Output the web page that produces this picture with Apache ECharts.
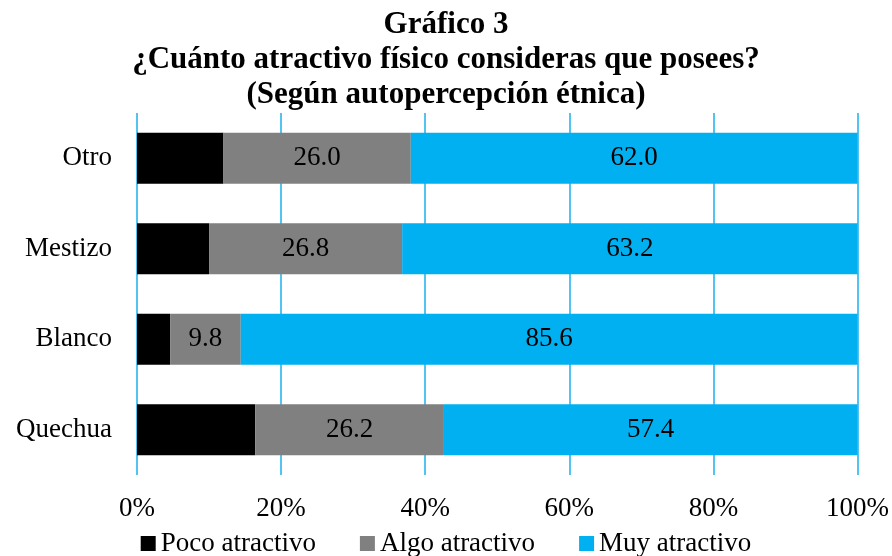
<!DOCTYPE html>
<html>
<head>
<meta charset="utf-8">
<script src="https://cdn.jsdelivr.net/npm/echarts@6/dist/echarts.min.js"></script>
<style>html,body{margin:0;padding:0;background:#fff}#c{width:892px;height:556px}</style>
</head>
<body>
<div id="c"></div>
<script>
var categories = ['Quechua', 'Blanco', 'Mestizo', 'Otro'];
var poco = [16.4, 4.6, 10.0, 12.0];
var algo = [26.2, 9.8, 26.8, 26.0];
var muy = [57.4, 85.6, 63.2, 62.0];
var seriesNames = ['Poco atractivo', 'Algo atractivo', 'Muy atractivo'];
var xTicks = [0, 20, 40, 60, 80, 100];

var FONT = '"Liberation Serif", "DejaVu Serif", serif';
var chart = echarts.init(document.getElementById('c'));
function lbl(color) {
  return {show: true, position: 'inside', color: color, fontFamily: FONT, fontSize: 27,
    formatter: function (p) { return p.value.toFixed(1); }};
}
chart.setOption({
  animation: false,
  title: {
    text: 'Gráfico 3\n¿Cuánto atractivo físico consideras que posees?\n(Según autopercepción étnica)',
    left: 'center', top: 2,
    textStyle: {fontFamily: FONT, fontWeight: 'bold', fontSize: 31, lineHeight: 35, color: '#000'}
  },
  legend: {
    data: seriesNames, bottom: -6, left: 'center', itemWidth: 15, itemHeight: 15, itemGap: 44,
    icon: 'rect',
    textStyle: {fontFamily: FONT, fontSize: 27, color: '#000'}
  },
  grid: {left: 137, right: 34, top: 113, bottom: 81, containLabel: false},
  xAxis: {
    type: 'value', min: xTicks[0], max: xTicks[xTicks.length - 1], interval: 20,
    axisLine: {show: false}, axisTick: {show: false},
    axisLabel: {formatter: '{value}%', fontFamily: FONT, fontSize: 27, color: '#000', margin: 20},
    splitLine: {show: true, lineStyle: {color: '#1AAFEC', width: 1.5}}
  },
  yAxis: {
    type: 'category', data: categories,
    axisLine: {show: false}, axisTick: {show: false},
    axisLabel: {fontFamily: FONT, fontSize: 27, color: '#000', margin: 25}
  },
  series: [
    {name: seriesNames[0], type: 'bar', stack: 's', data: poco, barWidth: 51,
     itemStyle: {color: '#000000'}, label: lbl('#000000')},
    {name: seriesNames[1], type: 'bar', stack: 's', data: algo,
     itemStyle: {color: '#808080'}, label: lbl('#000000')},
    {name: seriesNames[2], type: 'bar', stack: 's', data: muy,
     itemStyle: {color: '#00B0F0'}, label: lbl('#000000')}
  ]
});
</script>
</body>
</html>
